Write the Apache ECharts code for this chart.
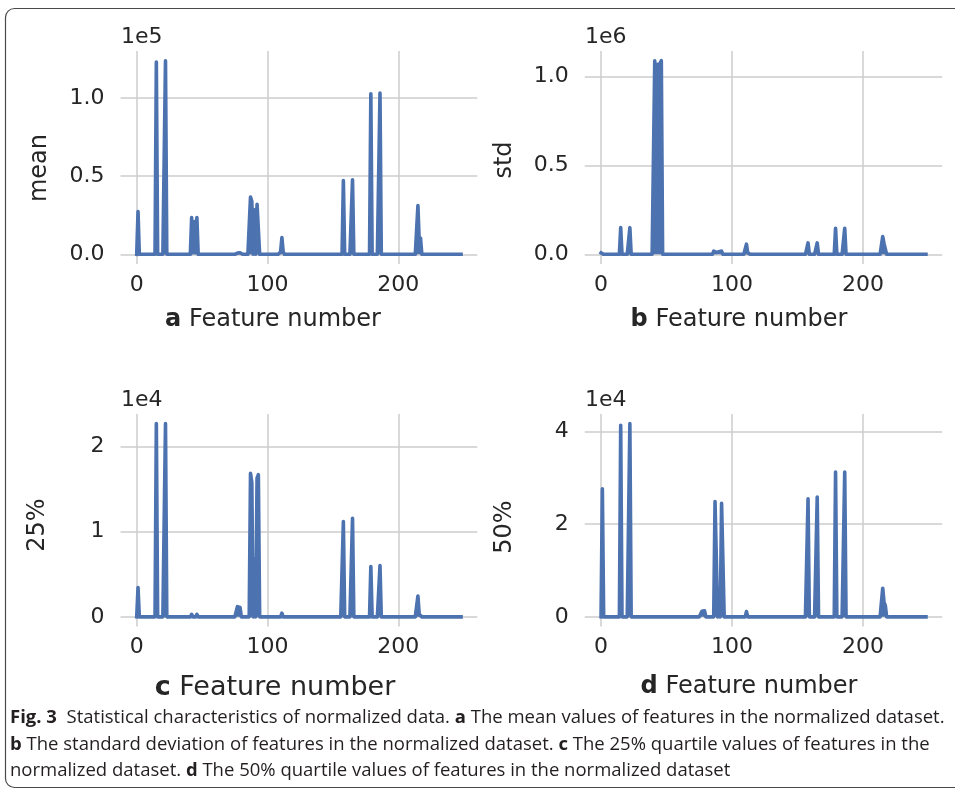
<!DOCTYPE html>
<html>
<head>
<meta charset="utf-8">
<script src="https://cdn.jsdelivr.net/npm/echarts@6/dist/echarts.min.js"></script>
<style>
html, body { margin: 0; padding: 0; background: #fff; }
#main { width: 955px; height: 789px; }
</style>
</head>
<body>
<div id="main"></div>
<script>
// feature numbers run 0..248, everything not listed below is 0
var featureCount = 249;

// [feature, value] for the non-zero features
var meanValues = [
  [1, 27400], [15, 123100], [22, 124000],
  [42, 23500], [43, 1000], [44, 21000], [45, 1000], [46, 23500],
  [77, 800], [78, 1000], [79, 1000], [80, 800],
  [87, 36600], [88, 34000], [90, 28500], [92, 32000], [93, 33200],
  [110, 1500], [111, 10700], [112, 1500],
  [158, 47300], [165, 47700], [179, 102800], [186, 103200],
  [215, 31200], [216, 8000], [217, 10300]
];
var stdValues = [
  [0, 8000], [1, 16000], [15, 150000], [22, 150000],
  [41, 1090000], [42, 20000], [43, 1070000], [44, 20000], [45, 1075000], [46, 1090000],
  [50, 8000],
  [86, 18000], [87, 20000], [88, 10000], [89, 3000], [90, 15000], [91, 20000], [92, 18000],
  [110, 8000], [111, 57000], [112, 8000],
  [158, 64000], [165, 64000], [179, 147000], [186, 147000],
  [215, 100000], [216, 60000], [217, 50000]
];
var q25Values = [
  [1, 3430], [15, 22700], [22, 22700],
  [42, 300], [46, 300],
  [77, 1200], [78, 1400], [79, 1100],
  [87, 16880], [88, 15800], [90, 6800], [92, 16300], [93, 16700],
  [111, 430],
  [158, 11200], [165, 11580], [179, 5900], [186, 6020],
  [215, 2450], [216, 300], [217, 500]
];
var q50Values = [
  [1, 27660], [15, 41340], [22, 41700],
  [42, 400], [46, 400],
  [77, 1200], [78, 1500], [79, 1300],
  [87, 24900], [88, 24500], [90, 5500], [92, 24500], [93, 24900],
  [111, 1130],
  [158, 25480], [165, 25850], [179, 31250], [186, 31250],
  [215, 6170], [216, 3200], [217, 2430]
];

var xTicks = [0, 100, 200];
var meanTicks = [0, 50000, 100000];
var meanTickLabels = ['0.0', '0.5', '1.0'];
var stdTicks = [0, 500000, 1000000];
var stdTickLabels = ['0.0', '0.5', '1.0'];
var q25Ticks = [0, 10000, 20000];
var q25TickLabels = ['0', '1', '2'];
var q50Ticks = [0, 20000, 40000];
var q50TickLabels = ['0', '2', '4'];

var FONT = 'DejaVu Sans';
var TXT = '#262626';
var BLUE = '#4c72b0';

function fullSeries(values) {
  var arr = [];
  for (var i = 0; i < featureCount; i++) arr.push([i, 0]);
  values.forEach(function (v) { arr[v[0]][1] = v[1]; });
  return arr;
}

function makeX(idx) {
  return {
    type: 'value', gridIndex: idx, min: -12.4, max: 260.4,
    axisLine: { show: false },
    axisTick: { show: false, customValues: xTicks },
    axisLabel: { customValues: xTicks, fontFamily: FONT, fontSize: 22, color: TXT, margin: 10 },
    splitLine: { show: true, lineStyle: { color: '#cccccc', width: 1.5 } }
  };
}

function makeY(idx, ticks, labels) {
  return {
    type: 'value', gridIndex: idx,
    min: function (v) { return -0.05 * v.max; },
    max: function (v) { return 1.05 * v.max; },
    axisLine: { show: false },
    axisTick: { show: false, customValues: ticks },
    axisLabel: {
      customValues: ticks, fontFamily: FONT, fontSize: 22, color: TXT, margin: 16,
      formatter: function (val) { return labels[ticks.indexOf(val)]; }
    },
    splitLine: { show: true, lineStyle: { color: '#cccccc', width: 1.5 } }
  };
}

function makeSeries(idx, values) {
  return {
    type: 'line', xAxisIndex: idx, yAxisIndex: idx,
    data: fullSeries(values),
    showSymbol: false, symbol: 'none', animation: false,
    lineStyle: { color: BLUE, width: 3.6, join: 'round', cap: 'square' },
    // thick overlapping strokes look solid in the original
    areaStyle: { color: BLUE, opacity: 1, origin: 0 }
  };
}

function txt(x, y, text, size, opts) {
  opts = opts || {};
  return {
    type: 'text', x: x, y: y, rotation: opts.rotation || 0, silent: true,
    style: {
      text: text, fontFamily: opts.family || FONT, fontSize: size, fill: opts.fill || TXT,
      align: opts.align || 'left', verticalAlign: 'middle',
      rich: opts.rich
    }
  };
}

var boldRich = { b: { fontWeight: 'bold', fontFamily: FONT, fontSize: 24, fill: TXT } };
var boldRichC = { b: { fontWeight: 'bold', fontFamily: FONT, fontSize: 27, fill: TXT } };
var CAP = "'Open Sans', sans-serif";
var capRich = { b: { fontWeight: 'bold', fontFamily: CAP, fontSize: 18.5, fill: '#231f20' } };

var chart = echarts.init(document.getElementById('main'), null, { renderer: 'canvas' });
chart.setOption({
  backgroundColor: '#fff',
  animation: false,
  grid: [
    { left: 120.5, top: 51, width: 356.8, height: 213 },
    { left: 584.8, top: 51, width: 357.4, height: 213 },
    { left: 120.5, top: 414, width: 356.8, height: 212.5 },
    { left: 584.8, top: 414, width: 357.4, height: 212.5 }
  ],
  xAxis: [makeX(0), makeX(1), makeX(2), makeX(3)],
  yAxis: [
    makeY(0, meanTicks, meanTickLabels),
    makeY(1, stdTicks, stdTickLabels),
    makeY(2, q25Ticks, q25TickLabels),
    makeY(3, q50Ticks, q50TickLabels)
  ],
  series: [
    makeSeries(0, meanValues),
    makeSeries(1, stdValues),
    makeSeries(2, q25Values),
    makeSeries(3, q50Values)
  ],
  graphic: [
    // figure frame
    { type: 'rect', silent: true, shape: { x: 5.5, y: 8.5, width: 990, height: 779, r: 9 },
      style: { fill: 'none', stroke: '#4a4a4a', lineWidth: 1.2 } },
    // offset texts
    txt(121, 37, '1e5', 22),
    txt(585, 37, '1e6', 22),
    txt(121, 400, '1e4', 22),
    txt(585, 400, '1e4', 22),
    // y labels
    txt(40, 168, 'mean', 24, { rotation: Math.PI / 2, align: 'center' }),
    txt(505, 160, 'std', 24, { rotation: Math.PI / 2, align: 'center' }),
    txt(38, 525, '25%', 24, { rotation: Math.PI / 2, align: 'center' }),
    txt(505, 527, '50%', 24, { rotation: Math.PI / 2, align: 'center' }),
    // x labels
    txt(273, 320, '{b|a} Feature number', 24, { align: 'center', rich: boldRich }),
    txt(739, 320, '{b|b} Feature number', 24, { align: 'center', rich: boldRich }),
    txt(275, 688, '{b|c} Feature number', 27, { align: 'center', rich: boldRichC }),
    txt(749, 687, '{b|d} Feature number', 24, { align: 'center', rich: boldRich }),
    // caption
    txt(10, 718, '{b|Fig. 3}  Statistical characteristics of normalized data. {b|a} The mean values of features in the normalized dataset.', 18.5, { family: CAP, fill: '#231f20', rich: capRich }),
    txt(10, 745, '{b|b} The standard deviation of features in the normalized dataset. {b|c} The 25% quartile values of features in the', 18.5, { family: CAP, fill: '#231f20', rich: capRich }),
    txt(10, 771, 'normalized dataset. {b|d} The 50% quartile values of features in the normalized dataset', 18.5, { family: CAP, fill: '#231f20', rich: capRich })
  ]
});
</script>
</body>
</html>
